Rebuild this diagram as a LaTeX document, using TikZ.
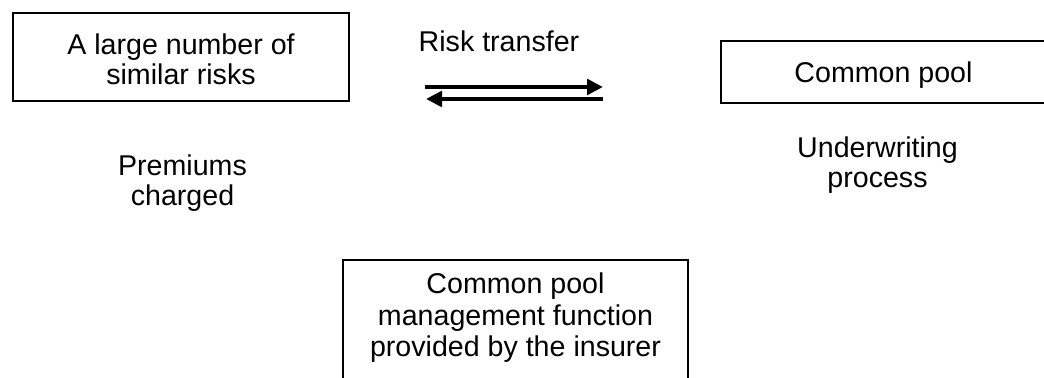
\documentclass[tikz,border=0pt]{standalone}
\usepackage{fontspec}
\setmainfont{Liberation Sans}
\usetikzlibrary{arrows.meta}
\begin{document}
\begin{tikzpicture}[x=0.5pt,y=-0.5pt,
  every node/.style={font=\fontsize{14.3pt}{15pt}\selectfont, align=center, inner sep=0pt},
  box/.style={draw, line width=1pt, anchor=base},
  label/.style={anchor=base},
  flow/.style={line width=2pt, -{Triangle[length=8pt,width=7.75pt]}}]
\useasboundingbox (0,0) rectangle (1044,378);
\node[box, minimum width=168.25pt, text height=36.15pt, text depth=7.85pt] (risks) at (181,85) {A large number of\\similar risks};
\node[box, minimum width=162.5pt, text height=21pt, text depth=10pt] (pool) at (883.5,83) {Common pool};
\node[box, minimum width=172.5pt, text height=48.5pt, text depth=21.5pt, font=\fontsize{14.3pt}{15.75pt}\selectfont] (mgmt) at (515.5,357) {Common pool\\management function\\provided by the insurer};
\node[label] (transfer) at (499,52) {Risk transfer};
\node[label] (premiums) at (182.5,206) {Premiums\\charged};
\node[label] (underwriting) at (877.5,188) {Underwriting\\process};
\coordinate (t1) at (425,87);
\coordinate (h1) at (603,87);
\coordinate (t2) at (603,99);
\coordinate (h2) at (426,99);
\draw[flow] (t1) -- (h1);
\draw[flow] (t2) -- (h2);
\end{tikzpicture}
\end{document}
